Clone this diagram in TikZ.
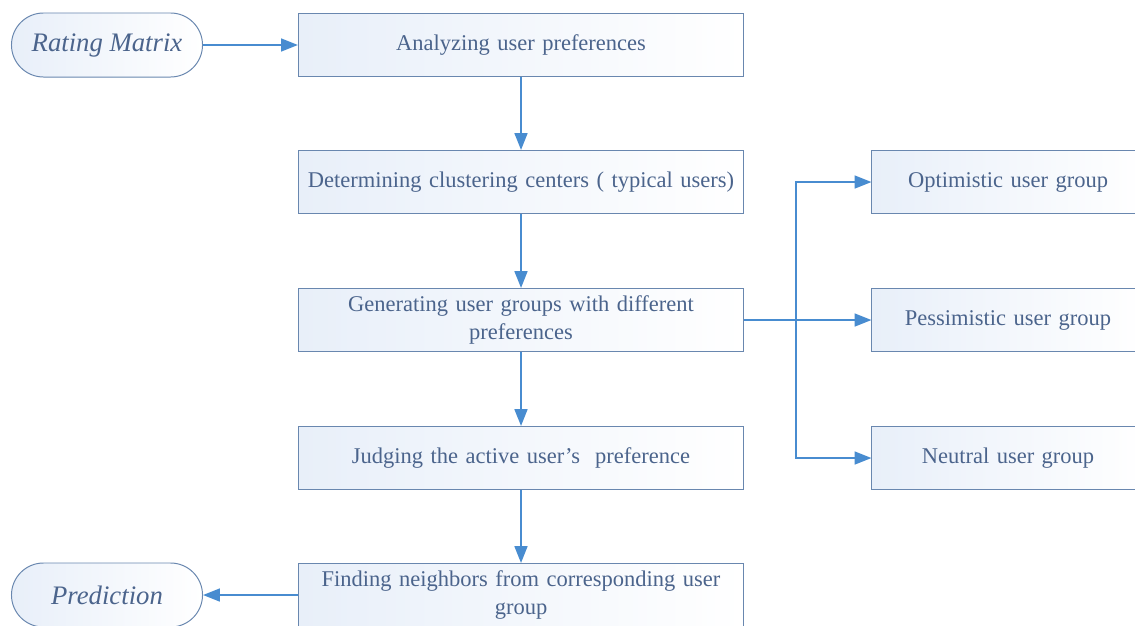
\documentclass[tikz,border=0pt]{standalone}
\usepackage{fontspec}
\setmainfont{Liberation Serif}
\usetikzlibrary{arrows.meta}
\definecolor{edgegrey}{RGB}{105,135,175}
\definecolor{textgrey}{RGB}{75,100,140}
\definecolor{flowblue}{RGB}{72,140,208}
\definecolor{tintblue}{RGB}{232,239,249}
\begin{document}
\begin{tikzpicture}[x=0.025cm,y=-0.025cm,>={Triangle[length=0.42cm,width=0.32cm]},
    stepbox/.style={draw=edgegrey,line width=0.7pt,left color=tintblue,right color=white,
      minimum width=11.125cm,minimum height=1.575cm,text width=10.8cm,align=center,
      text=textgrey,font=\fontsize{16}{20}\selectfont,inner sep=0pt},
    groupbox/.style={stepbox,minimum width=6.8cm,text width=6.6cm},
    terminal/.style={draw=edgegrey,line width=0.7pt,left color=tintblue,right color=white,
      rounded corners=0.8cm,minimum width=4.775cm,minimum height=1.6cm,
      text=textgrey,font=\fontsize{19}{22}\selectfont\itshape,inner sep=0pt},
    flow/.style={draw=flowblue,line width=1.4pt,->}]
    \useasboundingbox (0,0) rectangle (1135,625);
    \clip (0,0) rectangle (1135,625);
    % left column
    \node[terminal] (rating) at (107,45) {Rating Matrix};
    \node[terminal] (predict) at (107,595) {Prediction};
    % main steps
    \node[stepbox] (analyze) at (521,45) {Analyzing user preferences};
    \node[stepbox] (centers) at (521,182) {Determining clustering centers ( typical users)};
    \node[stepbox] (groups) at (521,320) {Generating user groups with different\\preferences};
    \node[stepbox] (judge) at (521,458) {Judging the active user's\ \ preference};
    \node[stepbox] (neighbors) at (521,595) {Finding neighbors from corresponding user\\group};
    % user groups
    \node[groupbox] (opt) at (1008,182) {Optimistic user group};
    \node[groupbox] (pess) at (1008,320) {Pessimistic user group};
    \node[groupbox] (neut) at (1008,458) {Neutral user group};
    \coordinate (split) at (796,320);
    %
    \draw[flow] (rating) -- (analyze);
    \draw[flow] (analyze) -- (centers);
    \draw[flow] (centers) -- (groups);
    \draw[flow] (groups) -- (judge);
    \draw[flow] (judge) -- (neighbors);
    \draw[flow] (neighbors) -- (predict);
    \draw[flow] (groups) -- (pess);
    \draw[flow] (split) |- (opt);
    \draw[flow] (split) |- (neut);
  \end{tikzpicture}
\end{document}
